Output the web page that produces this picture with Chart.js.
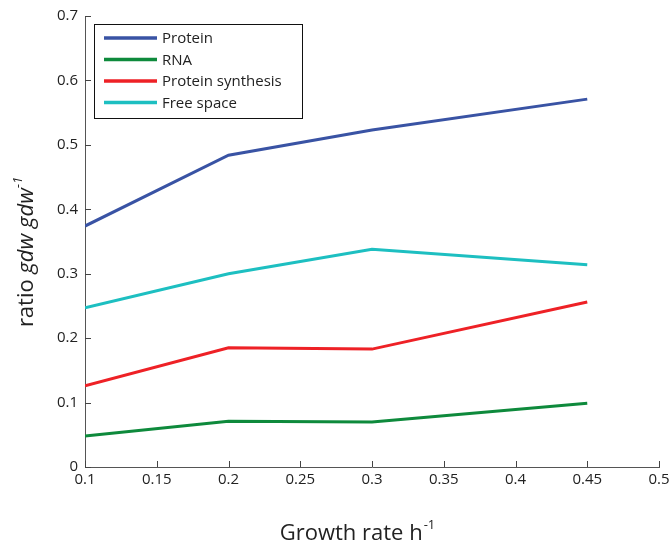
<!DOCTYPE html>
<html>
<head>
<meta charset="utf-8">
<script src="https://cdn.jsdelivr.net/npm/chart.js@4"></script>
<style>
  html, body { margin: 0; padding: 0; background: #fff; }
  #wrap { width: 669px; height: 542px; }
</style>
</head>
<body>
<div id="wrap"><canvas id="growthChart" width="669" height="542"></canvas></div>
<script>
// growth rates (x) and the four ratio series
const growthRates = [0.1, 0.2, 0.3, 0.45];
const protein = [0.374, 0.484, 0.523, 0.571];
const rna = [0.048, 0.071, 0.070, 0.099];
const proteinSynthesis = [0.126, 0.185, 0.183, 0.256];
const freeSpace = [0.247, 0.300, 0.338, 0.314];

const seriesNames = ["Protein", "RNA", "Protein synthesis", "Free space"];
const seriesColors = ["#3953a4", "#0e8a3c", "#ee2126", "#1dbfc1"];

const xTicks = [0.1, 0.15, 0.2, 0.25, 0.3, 0.35, 0.4, 0.45, 0.5];
const yTicks = [0, 0.1, 0.2, 0.3, 0.4, 0.5, 0.6, 0.7];

const FONT = "'Open Sans', 'Noto Sans', sans-serif";

function toPoints(values) {
    return growthRates.map((x, i) => ({ x: x, y: values[i] }));
}

// inward tick marks, axis titles and the boxed legend
const decorations = {
    id: "decorations",
    afterDraw(chart) {
        const ctx = chart.ctx;
        const area = chart.chartArea;
        const xs = chart.scales.x;
        const ys = chart.scales.y;
        ctx.save();
        ctx.strokeStyle = "#444";
        ctx.lineWidth = 1;
        ctx.beginPath();
        xTicks.forEach(v => {
            const px = Math.round(xs.getPixelForValue(v)) + 0.5;
            ctx.moveTo(px, area.bottom);
            ctx.lineTo(px, area.bottom - 6);
        });
        yTicks.forEach(v => {
            const py = Math.round(ys.getPixelForValue(v)) + 0.5;
            ctx.moveTo(area.left, py);
            ctx.lineTo(area.left + 6, py);
        });
        ctx.stroke();

        // x title with superscript
        ctx.fillStyle = "#222";
        ctx.textBaseline = "alphabetic";
        ctx.font = "22px " + FONT;
        const xt = "Growth rate h";
        const wMain = ctx.measureText(xt).width;
        ctx.font = "13px " + FONT;
        const wSup = ctx.measureText("-1").width;
        let sx = 357 - (wMain + wSup) / 2;
        ctx.font = "22px " + FONT;
        ctx.textAlign = "left";
        ctx.fillText(xt, sx, 540);
        ctx.font = "13px " + FONT;
        ctx.fillText("-1", sx + wMain + 1, 529);

        // y title, rotated, with italic parts
        const parts = [
            { t: "ratio ", f: "22px " + FONT, dy: 0 },
            { t: "gdw gdw", f: "italic 22px " + FONT, dy: 0 },
            { t: "-1", f: "italic 13px " + FONT, dy: -11 }
        ];
        let total = 0;
        parts.forEach(p => { ctx.font = p.f; p.w = ctx.measureText(p.t).width; total += p.w; });
        ctx.translate(33, 252);
        ctx.rotate(-Math.PI / 2);
        let cx = -total / 2;
        parts.forEach(p => {
            ctx.font = p.f;
            ctx.fillText(p.t, cx, p.dy);
            cx += p.w;
        });
        ctx.setTransform(1, 0, 0, 1, 0, 0);

        // legend box
        const lx = 94.5, ly = 24.5, lw = 208, lh = 94;
        ctx.fillStyle = "#fff";
        ctx.fillRect(lx, ly, lw, lh);
        ctx.strokeStyle = "#111";
        ctx.lineWidth = 1;
        ctx.strokeRect(lx, ly, lw, lh);
        ctx.font = "15px " + FONT;
        ctx.textBaseline = "middle";
        chart.data.datasets.forEach((ds, i) => {
            const y = 38 + i * 21.5;
            ctx.strokeStyle = ds.borderColor;
            ctx.lineWidth = 3.5;
            ctx.beginPath();
            ctx.moveTo(104, y);
            ctx.lineTo(157, y);
            ctx.stroke();
            ctx.fillStyle = "#222";
            ctx.fillText(ds.label, 162, y + 1);
        });
        ctx.restore();
    }
};

const seriesValues = [protein, rna, proteinSynthesis, freeSpace];

new Chart(document.getElementById("growthChart"), {
    type: "line",
    data: {
        datasets: seriesValues.map((vals, i) => ({
            label: seriesNames[i],
            data: toPoints(vals),
            borderColor: seriesColors[i],
            backgroundColor: seriesColors[i],
            borderWidth: 3,
            pointRadius: 0,
            tension: 0,
            fill: false
        }))
    },
    options: {
        responsive: false,
        animation: false,
        layout: { padding: { top: 16, right: 10, left: 0, bottom: 0 } },
        plugins: {
            legend: { display: false },
            tooltip: { enabled: false }
        },
        scales: {
            x: {
                type: "linear",
                min: 0.1,
                max: 0.5,
                afterBuildTicks: scale => { scale.ticks = xTicks.map(v => ({ value: v })); },
                afterFit: scale => {
                    scale.height = 75;
                    scale.paddingLeft = 0;
                    scale.paddingRight = 0;
                },
                grid: { display: false, drawTicks: false },
                border: { display: true, color: "#555", width: 1 },
                ticks: {
                    autoSkip: false,
                    maxRotation: 0,
                    padding: 4,
                    color: "#222",
                    font: { family: FONT, size: 15 },
                    callback: v => String(Math.round(v * 100) / 100)
                }
            },
            y: {
                min: 0,
                max: 0.7,
                afterBuildTicks: scale => { scale.ticks = yTicks.map(v => ({ value: v })); },
                afterFit: scale => {
                    scale.width = 85;
                    scale.paddingTop = 0;
                    scale.paddingBottom = 0;
                },
                grid: { display: false, drawTicks: false },
                border: { display: true, color: "#555", width: 1 },
                ticks: {
                    padding: 7,
                    color: "#222",
                    font: { family: FONT, size: 15 },
                    callback: v => String(Math.round(v * 10) / 10)
                }
            }
        }
    },
    plugins: [decorations]
});
</script>
</body>
</html>
